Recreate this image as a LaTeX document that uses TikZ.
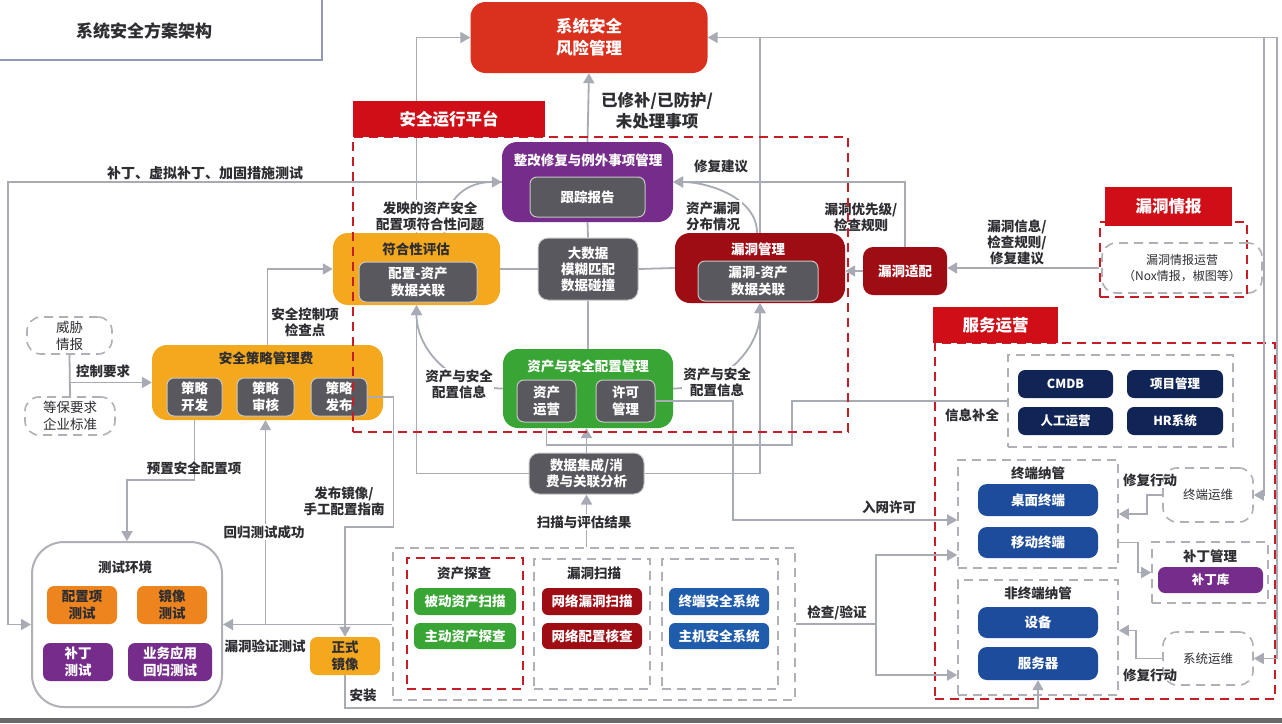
\documentclass[tikz,border=0pt]{standalone}
\usepackage{fontspec}
\setmainfont{Noto Sans CJK SC}
\usetikzlibrary{arrows.meta}
\definecolor{riskred}{RGB}{218,48,30}
\definecolor{headred}{RGB}{208,14,24}
\definecolor{dashred}{RGB}{200,28,38}
\definecolor{vulnred}{RGB}{158,12,20}
\definecolor{fixpurple}{RGB}{118,44,138}
\definecolor{orangeA}{RGB}{243,168,30}
\definecolor{orangeB}{RGB}{238,132,30}
\definecolor{boxgray}{RGB}{88,88,94}
\definecolor{assetgreen}{RGB}{56,165,52}
\definecolor{scanblue}{RGB}{32,92,172}
\definecolor{termblue}{RGB}{30,76,156}
\definecolor{navy}{RGB}{16,36,86}
\definecolor{linegray}{RGB}{168,170,180}
\definecolor{dashgray}{RGB}{176,176,182}
\definecolor{framegray}{RGB}{150,150,188}
\definecolor{txtgray}{RGB}{45,45,50}
\definecolor{bargray}{RGB}{105,105,108}
\begin{document}
\begin{tikzpicture}[x=1pt,y=-1pt,
    box/.style={rounded corners=7pt,align=center,inner sep=0pt,text=white,font=\fontsize{13.5}{17}\selectfont\bfseries},
    bigbox/.style={box,rounded corners=15pt},
    graybox/.style={box,fill=boxgray,draw=gray!45,line width=1pt},
    head/.style={fill=headred,text=white,inner sep=0pt,font=\fontsize{16.5}{20}\selectfont\bfseries},
    reddash/.style={draw=dashred,line width=2.2pt,dash pattern=on 9pt off 6pt,inner sep=0pt},
    graydash/.style={draw=dashgray,line width=1.6pt,dash pattern=on 9pt off 6pt,inner sep=0pt},
    opsbox/.style={graydash,rounded corners=14pt,align=center,text=txtgray,font=\fontsize{12.5}{16}\selectfont},
    conn/.style={draw=linegray,line width=1.8pt},
    arr/.style={conn,-{Triangle[length=10pt,width=11pt]}},
    lbl/.style={align=center,text=txtgray,inner sep=1.5pt,font=\fontsize{13.5}{16}\selectfont\bfseries},
    wlbl/.style={lbl,fill=white},
    ttl/.style={inner sep=0pt,text=white,font=\fontsize{13.5}{16}\selectfont\bfseries}]
  \fill[white] (0,0) rectangle (1282,723);
  \useasboundingbox (0,0) rectangle (1282,723);
  % title corner
  \draw[framegray,line width=2pt] (0,60) -- (322,60) -- (322,0);
  \node[lbl,font=\fontsize{17}{20}\selectfont\bfseries] (title) at (144,31) {系统安全方案架构};
  \fill[bargray] (0,718) rectangle (1282,723);

  % containers
  \node[graydash,minimum width=402pt,minimum height=152pt] (scan) at (594,624) {};
  \node[reddash,minimum width=116pt,minimum height=131pt] (find) at (465,623.5) {};
  \node[graydash,minimum width=116pt,minimum height=130pt] (vscan) at (592,624) {};
  \node[graydash,minimum width=116pt,minimum height=130pt] (hsec) at (720,624) {};
  \node[reddash,minimum width=340pt,minimum height=356pt] (svcbox) at (1105,521) {};
  \node[graydash,minimum width=225pt,minimum height=92pt] (info) at (1120.5,401) {};
  \node[graydash,minimum width=160pt,minimum height=108pt] (term) at (1038,514) {};
  \node[graydash,minimum width=160pt,minimum height=115pt] (nterm) at (1038,637.5) {};
  \node[graydash,minimum width=116pt,minimum height=61pt] (patch) at (1210,572.5) {};
  \node[reddash,minimum width=147pt,minimum height=75pt] (intelbox) at (1173.5,259.5) {};

  % top
  \node[bigbox,fill=riskred,minimum width=237pt,minimum height=71pt,font=\fontsize{16.5}{22}\selectfont\bfseries] (risk) at (589,37.5) {系统安全\\风险管理};

  % platform
  \node[bigbox,fill=fixpurple,minimum width=171pt,minimum height=80pt] (fix) at (587.5,182) {};
  \node[ttl] (fixT) at (588,160) {整改修复与例外事项管理};
  \node[graybox,minimum width=115pt,minimum height=40pt] (track) at (587.5,197) {跟踪报告};
  \node[bigbox,fill=orangeA,minimum width=167pt,minimum height=72pt] (comp) at (416.5,269) {};
  \node[ttl,text=txtgray] (compT) at (416,249) {符合性评估};
  \node[graybox,minimum width=118pt,minimum height=40pt] (cfg) at (418,282) {配置-资产\\数据关联};
  \node[graybox,rounded corners=10pt,minimum width=100pt,minimum height=62pt,font=\fontsize{13.5}{16}\selectfont\bfseries] (bigd) at (588,269) {大数据\\模糊匹配\\数据碰撞};
  \node[bigbox,fill=vulnred,minimum width=170pt,minimum height=70pt] (vuln) at (760,268) {};
  \node[ttl] (vulnT) at (758,249) {漏洞管理};
  \node[graybox,minimum width=120pt,minimum height=40pt] (vrel) at (758,281) {漏洞-资产\\数据关联};
  \node[bigbox,fill=assetgreen,minimum width=170pt,minimum height=79pt] (asset) at (588,388.5) {};
  \node[ttl] (assetT) at (588,366) {资产与安全配置管理};
  \node[graybox,minimum width=59pt,minimum height=42pt] (aops) at (546.5,401) {资产\\运营};
  \node[graybox,minimum width=59pt,minimum height=42pt] (lic) at (625.5,401) {许可\\管理};
  \node[graybox,rounded corners=10pt,minimum width=115pt,minimum height=41pt,font=\fontsize{13.5}{16}\selectfont\bfseries] (integ) at (586.5,473.5) {数据集成/消\\费与关联分析};

  % intel
  \node[box,rounded corners=10pt,fill=vulnred,minimum width=84pt,minimum height=48pt] (adapt) at (905,271) {漏洞适配};
  \node[opsbox,minimum width=160pt,minimum height=50pt,font=\fontsize{12}{16}\selectfont] (intelops) at (1182,268) {漏洞情报运营\\（Nox情报，椒图等）};
  \node[head,minimum width=127pt,minimum height=39pt] (intel) at (1168.5,206.5) {漏洞情报};

  % policy
  \node[bigbox,fill=orangeA,minimum width=231pt,minimum height=75pt] (policy) at (267.5,382.5) {};
  \node[ttl,text=txtgray] (policyT) at (266,358) {安全策略管理费};
  \node[graybox,minimum width=55pt,minimum height=38pt] (pdev) at (194.5,397) {策略\\开发};
  \node[graybox,minimum width=57pt,minimum height=38pt] (prev) at (265.5,397) {策略\\审核};
  \node[graybox,minimum width=56pt,minimum height=38pt] (ppub) at (339,397) {策略\\发布};
  \node[opsbox,minimum width=85pt,minimum height=37pt,font=\fontsize{13.5}{17}\selectfont] (threat) at (69.5,335.5) {威胁\\情报};
  \node[opsbox,minimum width=90pt,minimum height=38pt,font=\fontsize{13.5}{17}\selectfont] (std) at (70,416) {等保要求\\企业标准};

  % test environment
  \node[draw=dashgray,line width=2pt,rounded corners=32pt,minimum width=190pt,minimum height=165pt] (test) at (127,624.5) {};
  \node[lbl] (testT) at (125,567) {测试环境};
  \node[box,fill=orangeB,text=txtgray,minimum width=70pt,minimum height=38pt] (t1) at (82,605) {配置项\\测试};
  \node[box,fill=orangeB,text=txtgray,minimum width=70pt,minimum height=38pt] (t2) at (172,605) {镜像\\测试};
  \node[box,fill=fixpurple,minimum width=70pt,minimum height=38pt] (t3) at (78,662) {补丁\\测试};
  \node[box,fill=fixpurple,minimum width=84pt,minimum height=38pt] (t4) at (170,662) {业务应用\\回归测试};
  \node[box,fill=orangeA,text=txtgray,minimum width=70pt,minimum height=38pt] (img) at (345,656) {正式\\镜像};

  % scanning
  \node[lbl] (findT) at (464,573) {资产探查};
  \node[box,rounded corners=6pt,fill=assetgreen,minimum width=102pt,minimum height=27pt] (g1) at (465,601.5) {被动资产扫描};
  \node[box,rounded corners=6pt,fill=assetgreen,minimum width=102pt,minimum height=26pt] (g2) at (465,636) {主动资产探查};
  \node[lbl] (vscanT) at (594,573) {漏洞扫描};
  \node[box,rounded corners=6pt,fill=vulnred,minimum width=100pt,minimum height=27pt] (r1) at (592,601.5) {网络漏洞扫描};
  \node[box,rounded corners=6pt,fill=vulnred,minimum width=100pt,minimum height=26pt] (r2) at (592,636) {网络配置核查};
  \node[box,rounded corners=6pt,fill=scanblue,minimum width=100pt,minimum height=27pt] (b1) at (719,601.5) {终端安全系统};
  \node[box,rounded corners=6pt,fill=scanblue,minimum width=100pt,minimum height=26pt] (b2) at (719,636) {主机安全系统};

  % service operations
  \node[head,minimum width=125pt,minimum height=36pt] (svc) at (995.5,325) {服务运营};
  \node[box,fill=navy,minimum width=95pt,minimum height=28pt,font=\fontsize{12.5}{15}\selectfont\bfseries] (cmdb) at (1065.5,384) {CMDB};
  \node[box,fill=navy,minimum width=96pt,minimum height=28pt,font=\fontsize{12.5}{15}\selectfont\bfseries] (pm) at (1175,384) {项目管理};
  \node[box,fill=navy,minimum width=95pt,minimum height=28pt,font=\fontsize{12.5}{15}\selectfont\bfseries] (manual) at (1065.5,421) {人工运营};
  \node[box,fill=navy,minimum width=96pt,minimum height=28pt,font=\fontsize{12.5}{15}\selectfont\bfseries] (hr) at (1175,421) {HR系统};
  \node[lbl] (termT) at (1038,473) {终端纳管};
  \node[box,rounded corners=9pt,fill=termblue,minimum width=120pt,minimum height=32pt] (desk) at (1038,500) {桌面终端};
  \node[box,rounded corners=9pt,fill=termblue,minimum width=120pt,minimum height=31pt] (mobile) at (1038,542.5) {移动终端};
  \node[lbl] (ntermT) at (1038,593) {非终端纳管};
  \node[box,rounded corners=9pt,fill=termblue,minimum width=120pt,minimum height=31pt] (dev) at (1038,622.5) {设备};
  \node[box,rounded corners=9pt,fill=termblue,minimum width=120pt,minimum height=33pt] (server) at (1038,663.5) {服务器};
  \node[opsbox,minimum width=90pt,minimum height=54pt] (termops) at (1208,495) {终端运维};
  \node[lbl] (patchT) at (1210,556) {补丁管理};
  \node[box,rounded corners=7pt,fill=fixpurple,minimum width=105pt,minimum height=26pt,font=\fontsize{12.5}{15}\selectfont\bfseries] (plib) at (1210.5,580) {补丁库};
  \node[opsbox,minimum width=90pt,minimum height=53pt] (sysops) at (1208,658.5) {系统运维};

  % connectors
  \draw[arr] (fix.north) -- (risk.south);
  \draw[arr] (comp.north) |- (risk.west);
  \coordinate (tj) at (vuln.north |- risk.east);
  \coordinate (rt1) at (1264,37.5);
  \coordinate (rt2) at (1277,37.5);
  \draw[arr] (vuln.north) -- (tj) -- (risk.east);
  \draw[arr] (tj) -- (rt1) |- (termops.east);
  \draw[arr] (rt1) -- (rt2) |- (sysops.east);
  \draw[arr] (fix.west) -- (fix.west -| 8,0) |- (test.west);
  \draw[arr] ([xshift=28pt]comp.north) .. controls +(0,-35) and +(-35,0) .. (fix.west);
  \draw[arr] ([xshift=-3pt]vuln.north) .. controls +(0,-35) and +(35,0) .. (fix.east);
  \draw[arr] (adapt.north) |- (fix.east);
  \draw[arr] (adapt.west) -- (adapt.west -| vuln.east);
  \draw[arr] (intelops.west -| intelbox.west) -- (intelops.west -| adapt.east);
  \draw[conn] (comp.east) -- (bigd.west);
  \draw[conn] (bigd.east) -- (vuln.west);
  \draw[conn] (bigd.north) -- (fix.south);
  \draw[conn] (bigd.south) -- (asset.north);
  \draw[arr] (asset.west) .. controls +(-50,0) and +(0,45) .. (comp.south);
  \draw[arr] (asset.east) .. controls +(50,0) and +(0,45) .. (vuln.south);
  \draw[arr] (integ.north) -- (integ.north |- asset.south);
  \draw[arr] (integ.west) -| (comp.south);
  \draw[arr] (integ.east) -| (vuln.south);
  \draw[arr] (integ.south |- scan.north) -- (integ.south);
  \draw[arr] (policy.north) |- (comp.west);
  \draw[conn] (threat.south) -- (std.north);
  \draw[arr] (threat.south |- policy.west) -- (policy.west);
  \draw[arr] (pdev.south |- policy.south) -- ++(0,60) -| (test.north);
  \draw[arr] (scan.west |- test.east) -- (test.east);
  \draw[arr] (prev.south |- test.east) -- (prev.south |- policy.south);
  \draw[arr] (ppub.east) -- ++(26,0) -- ++(0,130) -| (img.north);
  \draw[arr] (img.south) -- ++(0,33) -| (server.south);
  \coordinate (ib) at (792,445);
  \draw[conn] (info.west) -| (ib) -| (aops.south |- asset.south);
  \coordinate (nw) at (733,520);
  \draw[arr] (lic.east) -| (nw) -- (nw -| term.west);
  \coordinate (cv) at (876,624);
  \coordinate (cv1) at (876,555);
  \coordinate (cv2) at (876,675);
  \draw[arr] (scan.east) -- (cv) -- (cv1) -- (cv1 -| term.west);
  \draw[arr] (cv) -- (cv2) -- (cv2 -| nterm.west);
  \draw[arr] (termops.west) -- ++(-15,0) |- (term.east);
  \draw[arr] (mobile.east -| term.east) -- ++(19,0) |- (patch.west);
  \draw[arr] (sysops.west) -- ++(-26,0) |- ([yshift=7pt]nterm.east);

  % labels
  \node[wlbl,font=\fontsize{14}{16}\selectfont\bfseries] (l1) at (205,173) {补丁、虚拟补丁、加固措施测试};
  \node[lbl,font=\fontsize{16.5}{21}\selectfont\bfseries] (l2) at (657,111) {已修补/已防护/\\未处理事项};
  \node[lbl] (l3) at (721,166) {修复建议};
  \node[wlbl] (l4) at (430,216) {发映的资产安全\\配置项符合性问题};
  \node[wlbl] (l5) at (713,216) {资产漏洞\\分布情况};
  \node[lbl] (l6) at (861,217) {漏洞优先级/\\检查规则};
  \node[lbl] (l7) at (1017,242) {漏洞信息/\\检查规则/\\修复建议};
  \node[lbl] (l8) at (305,322) {安全控制项\\检查点};
  \node[lbl] (l9) at (103,371) {控制要求};
  \node[lbl] (l10) at (194,468) {预置安全配置项};
  \node[wlbl] (l11) at (264,532) {回归测试成功};
  \node[lbl] (l12) at (265,646) {漏洞验证测试};
  \node[lbl] (l13) at (344,501) {发布镜像/\\手工配置指南};
  \node[lbl] (l14) at (363,695) {安装};
  \node[wlbl] (l15) at (459,384) {资产与安全\\配置信息};
  \node[wlbl] (l16) at (717,382) {资产与安全\\配置信息};
  \node[wlbl] (l17) at (584,522) {扫描与评估结果};
  \node[lbl] (l18) at (889,507) {入网许可};
  \node[lbl] (l19) at (837,613) {检查/验证};
  \node[lbl] (l20) at (972,415) {信息补全};
  \node[lbl] (l21) at (1150,480) {修复行动};
  \node[lbl] (l22) at (1150,675) {修复行动};

  % platform frame on top
  \node[reddash,minimum width=495pt,minimum height=295pt] (platbox) at (600.5,284.5) {};
  \node[head,minimum width=192pt,minimum height=36pt] (plat) at (449,119) {安全运行平台};
\end{tikzpicture}
\end{document}
